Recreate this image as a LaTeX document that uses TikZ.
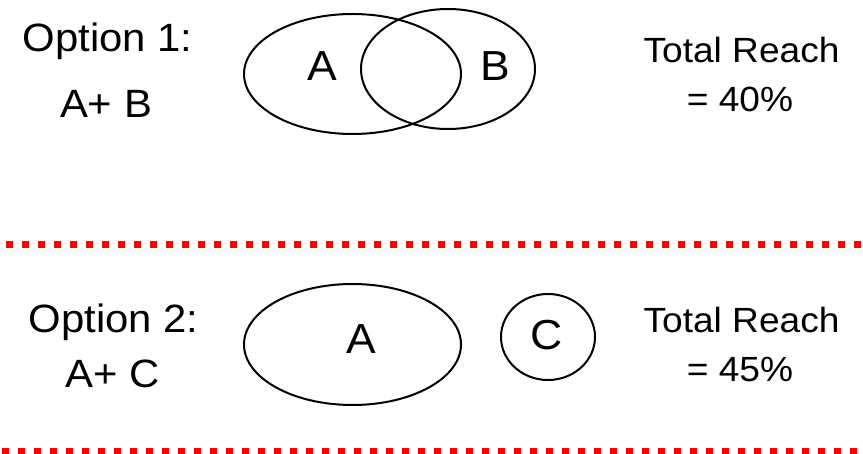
\documentclass[tikz,border=0pt]{standalone}
\usepackage{fontspec}
\setmainfont{Liberation Sans}[FakeStretch=1.06]
\usetikzlibrary{shapes.geometric}
\begin{document}
\begin{tikzpicture}[x=1pt,y=-1pt,
  set/.style={draw, ellipse, line width=2pt, inner sep=0pt},
  lbl/.style={anchor=base, inner sep=0pt, font=\fontsize{39.5}{42}\selectfont},
  tag/.style={anchor=base, inner sep=0pt, font=\fontsize{42}{44}\selectfont},
  reach/.style={anchor=base, inner sep=0pt, font=\fontsize{35}{38}\selectfont},
  divider/.style={red, line width=7pt, dash pattern=on 7pt off 9pt}]
\useasboundingbox (0,0) rectangle (863,454);

% Option 1: A + B, overlapping audiences
\node[lbl] (opt1) at (107.5,52) {Option 1:};
\node[lbl] (sum1) at (106,118) {A+ B};
\node[set, minimum width=217pt, minimum height=120pt] (setA1) at (352.5,74) {};
\node[set, minimum width=174pt, minimum height=120pt] (setB) at (448,69) {};
\node[tag] (labA1) at (322,81) {A};
\node[tag] (labB) at (495.5,81) {B};
\node[reach] (tot1) at (741.5,63) {Total Reach};
\node[reach] (pct1) at (740,112) {= 40\%};

% separators
\coordinate (d1l) at (6,245);
\coordinate (d1r) at (866,245);
\draw[divider] (d1l) -- (d1r);

% Option 2: A + C, disjoint audiences
\node[lbl] (opt2) at (113.5,333) {Option 2:};
\node[lbl] (sum2) at (113,388) {A+ C};
\node[set, minimum width=217pt, minimum height=121pt] (setA2) at (352.5,344.5) {};
\node[set, minimum width=94pt, minimum height=86pt] (setC) at (548,337) {};
\node[tag] (labA2) at (361,354) {A};
\node[tag] (labC) at (547,350) {C};
\node[reach] (tot2) at (741.5,333) {Total Reach};
\node[reach] (pct2) at (740,382) {= 45\%};

\coordinate (d2l) at (2,452);
\coordinate (d2r) at (866,452);
\draw[divider] (d2l) -- (d2r);
\end{tikzpicture}
\end{document}
